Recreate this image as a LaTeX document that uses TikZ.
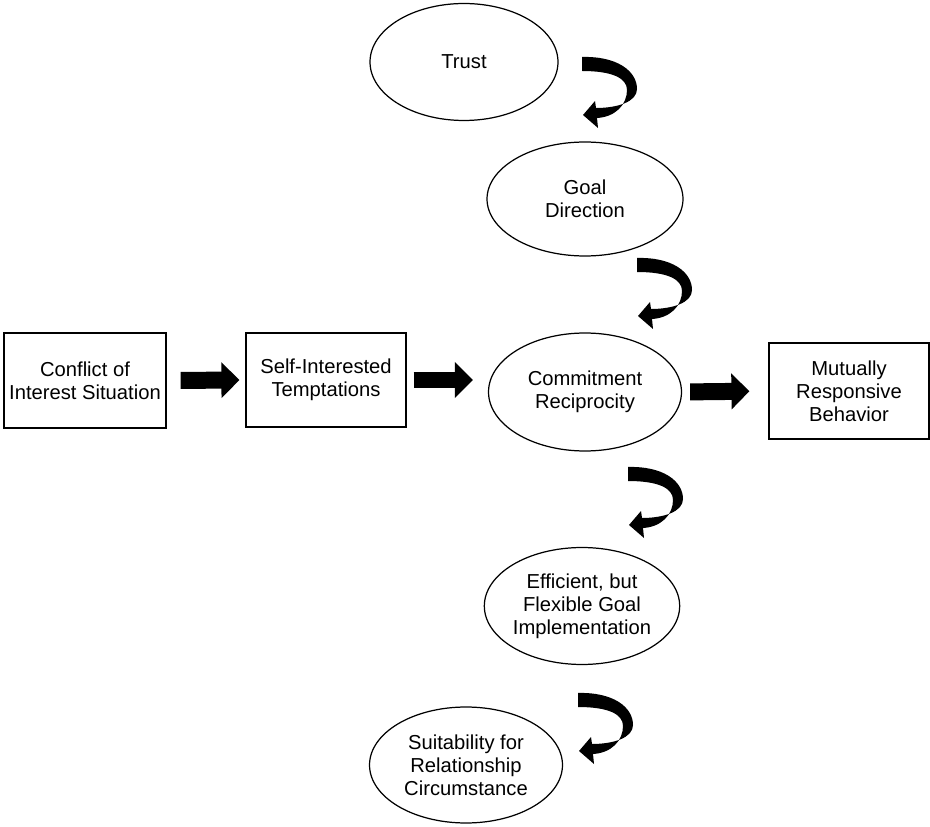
\documentclass[tikz,border=0pt]{standalone}
\usepackage{fontspec}
\setmainfont{Liberation Sans}
\usepackage{tikz}
\usetikzlibrary{shapes.geometric, arrows.meta, positioning, calc}
\tikzset{>=stealth}
% curled arrow between the stages
\tikzset{curl/.pic={
  \fill (0,0) .. controls (35,-1) and (55,14) .. (55,32) .. controls (55,45) and (35,51) .. (14,51)
    -- (13,44) -- (1,58) -- (16,71) -- (15,61)
    .. controls (33,60) and (45,48) .. (45,33) .. controls (45,21) and (30,14) .. (0,14) -- cycle;
}}

\begin{document}
\begin{tikzpicture}[x=0.02cm, y=-0.02cm,
  every node/.style={font=\fontsize{11.5}{13.2}\selectfont, align=center},
  box/.style={draw, line width=0.7pt, inner sep=0pt},
  oval/.style={draw, ellipse, line width=0.7pt, inner sep=0pt},
  bigarrow/.style={line width=0.34cm, -{Triangle[length=0.36cm, width=0.7cm]}}]
  \useasboundingbox (0,0) rectangle (930,827);

  % row
  \node[box, minimum width=3.24cm, minimum height=1.9cm] (conflict) at (85,380.5) {Conflict of\\Interest Situation};
  \node[box, minimum width=3.2cm, minimum height=1.88cm] (tempt) at (326,380) {Self-Interested\\Temptations};
  \node[oval, minimum width=3.86cm, minimum height=2.36cm] (commit) at (585,392) {Commitment\\Reciprocity};
  \node[box, minimum width=3.2cm, minimum height=1.92cm] (respond) at (849,391) {Mutually\\Responsive\\Behavior};

  % column
  \node[oval, minimum width=3.76cm, minimum height=2.34cm] (trust) at (464,62) {Trust};
  \node[oval, minimum width=3.92cm, minimum height=2.28cm] (goal) at (585,199) {Goal\\Direction};
  \node[oval, minimum width=3.72cm, minimum height=2.34cm] (implement) at (582,606) {Efficient, but\\Flexible Goal\\Implementation};
  \node[oval, minimum width=3.86cm, minimum height=2.32cm] (suit) at (466,765) {Suitability for\\Relationship\\Circumstance};

  \draw[bigarrow, shorten <=0.28cm, shorten >=0.12cm] (conflict.east) -- (tempt.west);
  \draw[bigarrow, shorten <=0.14cm, shorten >=0.3cm] (tempt.east) -- (tempt.east -| commit.west);
  \draw[bigarrow, shorten <=0.16cm, shorten >=0.38cm] (commit.east) -- (respond.west);

  \pic at (582,57) {curl};
  \pic at (637,258) {curl};
  \pic at (628,467) {curl};
  \pic at (578,693) {curl};
\end{tikzpicture}
\end{document}
